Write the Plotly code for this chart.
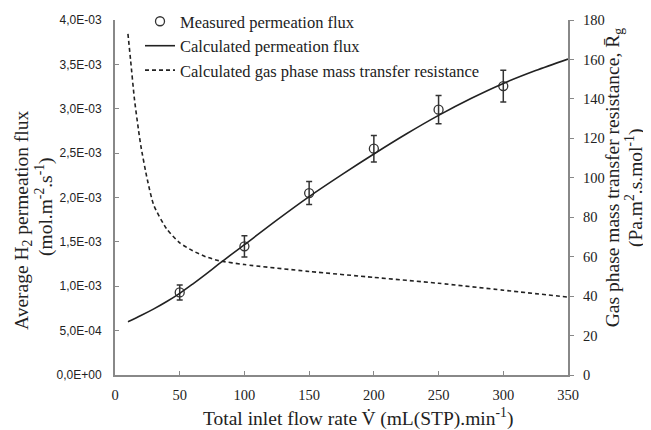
import plotly.graph_objects as go

# Measured permeation flux (mol m-2 s-1)
meas_x = [50, 100, 150, 200, 250, 300]
meas_y = [0.93e-3, 1.45e-3, 2.05e-3, 2.55e-3, 2.99e-3, 3.255e-3]
meas_err = [0.085e-3, 0.12e-3, 0.13e-3, 0.15e-3, 0.16e-3, 0.18e-3]

# Calculated permeation flux
calc_x = [10, 20, 30, 40, 50, 60, 70, 80, 90, 100, 125, 150, 175, 200, 225, 250, 275, 300, 325, 350]
calc_y = [0.60e-3, 0.67e-3, 0.745e-3, 0.828e-3, 0.92e-3, 1.025e-3, 1.135e-3, 1.248e-3, 1.36e-3, 1.468e-3,
          1.745e-3, 2.01e-3, 2.255e-3, 2.49e-3, 2.715e-3, 2.925e-3, 3.115e-3, 3.285e-3, 3.43e-3, 3.56e-3]

# Calculated gas phase mass transfer resistance
res_x = [10, 12, 15, 18, 20, 25, 30, 40, 50, 60, 70, 80, 100, 150, 200, 250, 300, 350]
res_y = [173, 160, 140, 125, 116, 99, 86, 74, 67, 63, 60, 58, 56, 52.5, 49.5, 46.5, 43, 39.5]

x_ticks = [0, 50, 100, 150, 200, 250, 300, 350]
y_ticks = [0, 0.5e-3, 1.0e-3, 1.5e-3, 2.0e-3, 2.5e-3, 3.0e-3, 3.5e-3, 4.0e-3]
y_ticklabels = ["0,0E+00", "5,0E-04", "1,0E-03", "1,5E-03", "2,0E-03", "2,5E-03", "3,0E-03", "3,5E-03", "4,0E-03"]
y2_ticks = [0, 20, 40, 60, 80, 100, 120, 140, 160, 180]

x_title = "Total inlet flow rate V\u0307 (mL(STP).min<sup>-1</sup>)"
y_title_lines = ["Average H<sub>2</sub> permeation flux", "(mol.m<sup>-2</sup>.s<sup>-1</sup>)"]
y2_title_lines = ["Gas phase mass transfer resistance, R\u0304<sub>g</sub>", "(Pa.m<sup>2</sup>.s.mol<sup>-1</sup>)"]

SERIF = "Liberation Serif"
SANS = "Liberation Sans"
INK = "#222222"
AXC = "#888888"

fig = go.Figure()
fig.add_trace(go.Scatter(
    x=meas_x, y=meas_y, mode="markers", name="Measured permeation flux",
    marker=dict(symbol="circle-open", size=9, color="#333333", line=dict(width=1.3)),
    error_y=dict(type="data", array=meas_err, visible=True, color="#333333", thickness=1.5, width=3),
))
fig.add_trace(go.Scatter(
    x=calc_x, y=calc_y, mode="lines", name="Calculated permeation flux",
    line=dict(color=INK, width=1.6, shape="spline", smoothing=0.8),
))
fig.add_trace(go.Scatter(
    x=res_x, y=res_y, mode="lines", name="Calculated gas phase mass transfer resistance",
    yaxis="y2", line=dict(color=INK, width=1.6, dash="4px,3px", shape="spline", smoothing=0.6),
))

TS = 19.5
ann = [
    dict(text=x_title, x=0.5364, y=-0.1211, xref="paper", yref="paper",
         xanchor="center", yanchor="middle", showarrow=False, font=dict(family=SERIF, size=TS, color=INK)),
    dict(text=y_title_lines[0], x=-0.2031, y=0.4366, xref="paper", yref="paper", textangle=-90,
         xanchor="center", yanchor="middle", showarrow=False, font=dict(family=SERIF, size=TS, color=INK)),
    dict(text=y_title_lines[1], x=-0.1567, y=0.4732, xref="paper", yref="paper", textangle=-90,
         xanchor="center", yanchor="middle", showarrow=False, font=dict(family=SERIF, size=TS, color=INK)),
    dict(text=y2_title_lines[0], x=1.102, y=0.5549, xref="paper", yref="paper", textangle=-90,
         xanchor="center", yanchor="middle", showarrow=False, font=dict(family=SERIF, size=TS, color=INK)),
    dict(text=y2_title_lines[1], x=1.148, y=0.5268, xref="paper", yref="paper", textangle=-90,
         xanchor="center", yanchor="middle", showarrow=False, font=dict(family=SERIF, size=TS, color=INK)),
]

# page body has an 8px margin: figure is 643x422 so that the plot area sits at x 115-568, y 20-375
fig.update_layout(
    width=643, height=422,
    margin=dict(l=107, r=83, t=12, b=55, autoexpand=False),
    paper_bgcolor="white", plot_bgcolor="white",
    font=dict(family=SERIF, color=INK, size=14),
    showlegend=True,
    legend=dict(x=0.0552, y=1.045, xanchor="left", yanchor="top",
                bgcolor="rgba(0,0,0,0)", font=dict(family=SERIF, size=16.5, color=INK),
                itemwidth=30, tracegroupgap=0),
    annotations=ann,
    xaxis=dict(
        range=[0, 350], tickvals=x_ticks, ticktext=[str(v) for v in x_ticks],
        showgrid=False, zeroline=False, showline=True, linecolor=AXC, linewidth=2,
        ticks="inside", ticklen=4, tickcolor=AXC, tickfont=dict(family=SERIF, size=14.5, color=INK),
        ticklabelstandoff=6,
    ),
    yaxis=dict(
        range=[0, 4.0e-3], tickvals=y_ticks, ticktext=y_ticklabels,
        showgrid=False, zeroline=False, showline=True, linecolor=AXC, linewidth=2,
        ticks="inside", ticklen=4, tickcolor=AXC, tickfont=dict(family=SANS, size=12, color=INK),
        ticklabelstandoff=9,
    ),
    yaxis2=dict(
        range=[0, 180], tickvals=y2_ticks, overlaying="y", side="right",
        showgrid=False, zeroline=False, showline=True, linecolor=AXC, linewidth=2,
        ticks="outside", ticklen=4, tickcolor=AXC, tickfont=dict(family=SERIF, size=14.5, color=INK),
        ticklabelstandoff=6,
    ),
)

fig.write_html("out.html")
